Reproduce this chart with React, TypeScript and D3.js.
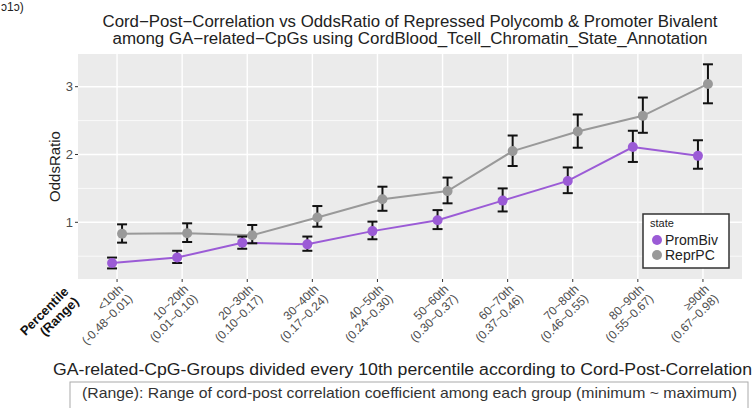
import * as d3 from "d3";

const W = 755;
const H = 408;

// categories (tick labels, two lines)
const percentiles = ["<10th", "10~20th", "20~30th", "30~40th", "40~50th", "50~60th", "60~70th", "70~80th", "80~90th", "≥90th"];
const ranges = ["(-0.48~0.01)", "(0.01~0.10)", "(0.10~0.17)", "(0.17~0.24)", "(0.24~0.30)", "(0.30~0.37)", "(0.37~0.46)", "(0.46~0.55)", "(0.55~0.67)", "(0.67~0.98)"];

const states = ["PromBiv", "ReprPC"];

// odds ratios with error bar limits
const promBivOR = [0.4, 0.48, 0.7, 0.675, 0.87, 1.03, 1.32, 1.61, 2.11, 1.98];
const promBivLo = [0.32, 0.4, 0.61, 0.58, 0.75, 0.9, 1.16, 1.43, 1.89, 1.79];
const promBivHi = [0.48, 0.58, 0.79, 0.79, 1.01, 1.18, 1.5, 1.81, 2.35, 2.21];

const reprPCOR = [0.83, 0.84, 0.81, 1.07, 1.34, 1.46, 2.05, 2.34, 2.57, 3.04];
const reprPCLo = [0.7, 0.71, 0.69, 0.935, 1.17, 1.28, 1.83, 2.1, 2.32, 2.755];
const reprPCHi = [0.97, 0.985, 0.96, 1.24, 1.525, 1.66, 2.28, 2.59, 2.84, 3.33];

const yMajor = [1, 2, 3];
const yMinor = [0.5, 1.5, 2.5];

const colors: Record<string, string> = { PromBiv: "#9b5bd6", ReprPC: "#999999" };
const font = "'Liberation Sans', Arial, Helvetica, sans-serif";

export default function App() {
  const panel = { left: 78, right: 742, top: 54, bottom: 279 };

  const x = d3.scalePoint<string>().domain(percentiles).range([panel.left, panel.right]).padding(0.6);
  const dodge = d3.scalePoint<string>().domain(states).range([-5, 5]);
  const y = d3.scaleLinear().domain([0.164, 3.482]).range([panel.bottom, panel.top]);

  const series = [
    { state: "PromBiv", or: promBivOR, lo: promBivLo, hi: promBivHi },
    { state: "ReprPC", or: reprPCOR, lo: reprPCLo, hi: reprPCHi },
  ].map((s) => ({
    ...s,
    pts: percentiles.map((p, i) => ({ x: (x(p) as number) + (dodge(s.state) as number), v: s.or[i], lo: s.lo[i], hi: s.hi[i] })),
  }));

  const line = d3
    .line<{ x: number; v: number }>()
    .x((d) => d.x)
    .y((d) => y(d.v));

  const cap = 5;

  return (
    <svg width={W} height={H} style={{ position: "absolute", left: 0, top: 0, background: "#fff" }} fontFamily={font}>
      {/* fragment at the top-left corner */}
      <text x={1} y={11} fontSize={12} fill="#222">ɔ1ɔ)</text>

      <text x={410} y={27} textAnchor="middle" fontSize={16} fill="#222" textLength={615} lengthAdjust="spacingAndGlyphs">
        Cord−Post−Correlation vs OddsRatio of Repressed Polycomb &amp; Promoter Bivalent
      </text>
      <text x={410} y={44} textAnchor="middle" fontSize={16} fill="#222" textLength={595} lengthAdjust="spacingAndGlyphs">
        among GA−related−CpGs using CordBlood_Tcell_Chromatin_State_Annotation
      </text>

      <rect x={panel.left} y={panel.top} width={panel.right - panel.left} height={panel.bottom - panel.top} fill="#ebebeb" />
      {yMinor.map((t) => (
        <line key={"mn" + t} x1={panel.left} x2={panel.right} y1={y(t)} y2={y(t)} stroke="#fff" strokeWidth={0.7} />
      ))}
      {yMajor.map((t) => (
        <line key={"mj" + t} x1={panel.left} x2={panel.right} y1={y(t)} y2={y(t)} stroke="#fff" strokeWidth={1.4} />
      ))}
      {percentiles.map((p) => (
        <line key={"vg" + p} x1={x(p)} x2={x(p)} y1={panel.top} y2={panel.bottom} stroke="#fff" strokeWidth={1.4} />
      ))}

      {series.map((s) => (
        <path key={"l" + s.state} d={line(s.pts) || ""} fill="none" stroke={colors[s.state]} strokeWidth={2} />
      ))}
      {series.map((s) =>
        s.pts.map((d, i) => (
          <g key={"e" + s.state + i} stroke="#111" strokeWidth={2}>
            <line x1={d.x} x2={d.x} y1={y(d.lo)} y2={y(d.hi)} />
            <line x1={d.x - cap} x2={d.x + cap} y1={y(d.lo)} y2={y(d.lo)} />
            <line x1={d.x - cap} x2={d.x + cap} y1={y(d.hi)} y2={y(d.hi)} />
          </g>
        ))
      )}
      {series.map((s) =>
        s.pts.map((d, i) => <circle key={"p" + s.state + i} cx={d.x} cy={y(d.v)} r={5} fill={colors[s.state]} />)
      )}

      {/* y axis */}
      {yMajor.map((t) => (
        <g key={"yt" + t}>
          <line x1={panel.left - 3} x2={panel.left} y1={y(t)} y2={y(t)} stroke="#333" />
          <text x={panel.left - 5} y={y(t)} dy="0.35em" textAnchor="end" fontSize={13} fill="#4d4d4d">
            {t}
          </text>
        </g>
      ))}
      <text transform={`translate(60,${(panel.top + panel.bottom) / 2}) rotate(-90)`} textAnchor="middle" fontSize={15} fill="#222">
        OddsRatio
      </text>

      {/* x axis */}
      {percentiles.map((p, i) => (
        <g key={"xt" + p}>
          <line x1={x(p)} x2={x(p)} y1={panel.bottom} y2={panel.bottom + 3} stroke="#333" />
          <text transform={`translate(${x(p)},${panel.bottom + 4}) rotate(-45)`} textAnchor="end" fontSize={12} fill="#4d4d4d">
            <tspan x={0} dy="0.8em">{p}</tspan>
            <tspan x={0} dy="1.1em">{ranges[i]}</tspan>
          </text>
        </g>
      ))}
      <text transform="translate(62,285) rotate(-45)" textAnchor="end" fontSize={13} fontWeight="bold" fill="#111">
        <tspan x={0} dy="0.8em">Percentile</tspan>
        <tspan x={0} dy="1.1em">(Range)</tspan>
      </text>

      <text x={53} y={375} fontSize={16} fill="#222" textLength={699} lengthAdjust="spacingAndGlyphs">
        GA-related-CpG-Groups divided every 10th percentile according to Cord-Post-Correlation
      </text>

      <rect x={70} y={382} width={678} height={40} fill="#fff" stroke="#aaa" strokeWidth={1} />
      <text x={82} y={398} fontSize={15} fill="#333" textLength={655} lengthAdjust="spacingAndGlyphs">
        (Range): Range of cord-post correlation coefficient among each group (minimum ~ maximum)
      </text>

      {/* legend */}
      <g>
        <rect x={643} y={214} width={86} height={54} fill="#fff" stroke="#333" strokeWidth={1.5} />
        <text x={650} y={227} fontSize={11} fill="#222">state</text>
        {states.map((s, i) => (
          <g key={"lg" + s}>
            <circle cx={657} cy={240 + i * 15} r={5} fill={colors[s]} />
            <text x={665} y={240 + i * 15} dy="0.35em" fontSize={14} fill="#222">
              {s}
            </text>
          </g>
        ))}
      </g>
    </svg>
  );
}
